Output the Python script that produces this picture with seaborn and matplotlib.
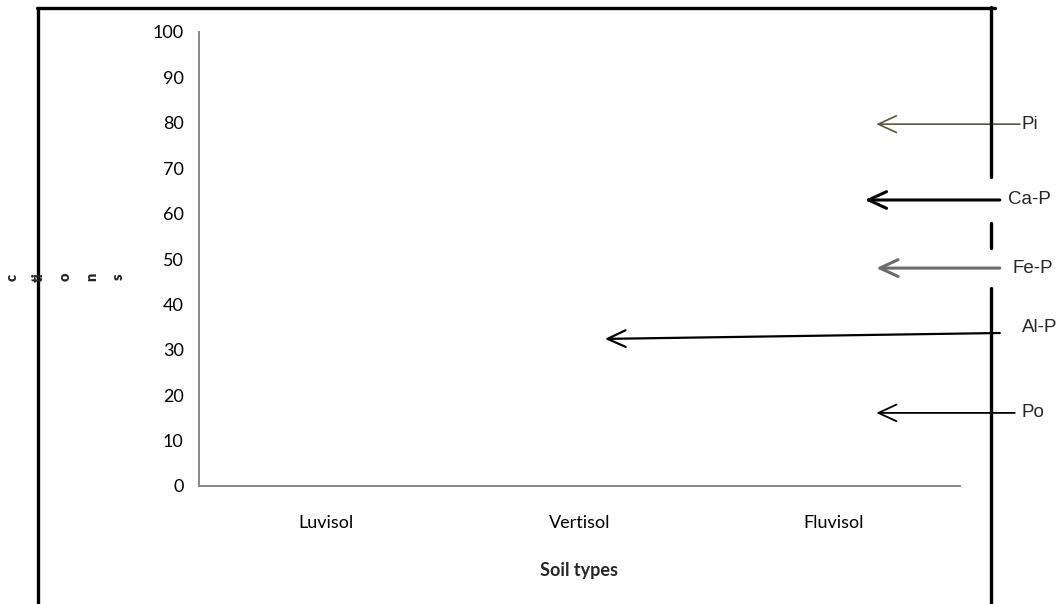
import matplotlib
matplotlib.use('Agg')
import matplotlib.pyplot as plt
from matplotlib.lines import Line2D
import seaborn as sns
import pandas as pd

# categories on the x axis (no bars were plotted in the original chart)
soil_types = ['Luvisol', 'Vertisol', 'Fluvisol']
bar_values = [0, 0, 0]

# phosphorus fraction call-outs: label, arrow tail y, arrow head y, head x (category units)
fractions = ['Pi', 'Ca-P', 'Fe-P', 'Al-P', 'Po']
tail_y = [79.7, 63.0, 48.0, 33.7, 16.1]
head_y = [79.7, 63.0, 48.0, 32.4, 16.1]
head_x = [2.17, 2.125, 2.17, 1.10, 2.17]
tail_x = [2.736, 2.657, 2.657, 2.657, 2.716]
label_y = [79.7, 63.0, 48.0, 35.0, 16.1]
label_x = [2.744, 2.689, 2.705, 2.744, 2.744]

arrow_colors = ['#5b5640', 'black', '#6b6b6b', 'black', 'black']
arrow_widths = [1.2, 2.2, 2.2, 1.6, 1.3]

# fragments of the clipped y axis title
ylabel_bits = ['c', 'ti', 'o', 'n', 's']

sns.set_style('white')
plt.rcParams['font.family'] = ['Lato', 'DejaVu Sans']

W, H = 1062, 604
fig = plt.figure(figsize=(W / 100, H / 100), dpi=100)
ax = fig.add_axes([199 / W, 1 - 486 / H, (960 - 199) / W, (486 - 32) / H])

df = pd.DataFrame({'Soil': soil_types, 'Value': bar_values})
sns.barplot(data=df, x='Soil', y='Value', ax=ax, color='white')

ax.set_xlim(-0.5, 2.5)
ax.set_ylim(0, 100)
ax.set_yticks(range(0, 101, 10))

grey = '#868686'
for s in ['top', 'right']:
    ax.spines[s].set_visible(False)
for s in ['left', 'bottom']:
    ax.spines[s].set_color(grey)
    ax.spines[s].set_linewidth(1.4)

ax.tick_params(axis='y', length=6, width=1.4, color=grey, pad=5, labelsize=13, labelcolor='black')
ax.tick_params(axis='x', which='major', length=0, pad=21, labelsize=13, labelcolor='black')
ax.set_xticks([-0.5, 0.5, 1.5, 2.5], minor=True)
ax.tick_params(axis='x', which='minor', length=5, width=1.4, color=grey)

ax.set_xlabel('Soil types', fontsize=13, fontweight='bold', labelpad=22)
ax.set_ylabel('')

# arrows with labels
for i, lab in enumerate(fractions):
    ax.annotate('', xy=(head_x[i], head_y[i]), xytext=(tail_x[i], tail_y[i]),
                arrowprops=dict(arrowstyle='->,head_length=1.3,head_width=0.6',
                                color=arrow_colors[i], lw=arrow_widths[i],
                                shrinkA=0, shrinkB=0),
                annotation_clip=False)
    ax.text(label_x[i], label_y[i], lab, fontsize=13.5, family='Liberation Sans',
            va='center', ha='left', clip_on=False)

# clipped vertical axis title
for i, bit in enumerate(ylabel_bits):
    fig.text((12 + 26.5 * i) / W, 1 - 277 / H, bit, rotation=90, fontsize=10.5,
             fontweight='heavy', ha='center', va='center')

# black frame lines around the chart box
lw = 2.4
fig.add_artist(Line2D([38 / W, 38 / W], [0, 1 - 8 / H], color='black', lw=lw))
fig.add_artist(Line2D([37 / W, 995 / W], [1 - 8 / H, 1 - 8 / H], color='black', lw=lw))
for y0, y1 in [(7, 177), (223, 248), (288, 604)]:
    fig.add_artist(Line2D([991 / W, 991 / W], [1 - y0 / H, 1 - y1 / H], color='black', lw=lw))

fig.savefig('out.png', dpi=100)
